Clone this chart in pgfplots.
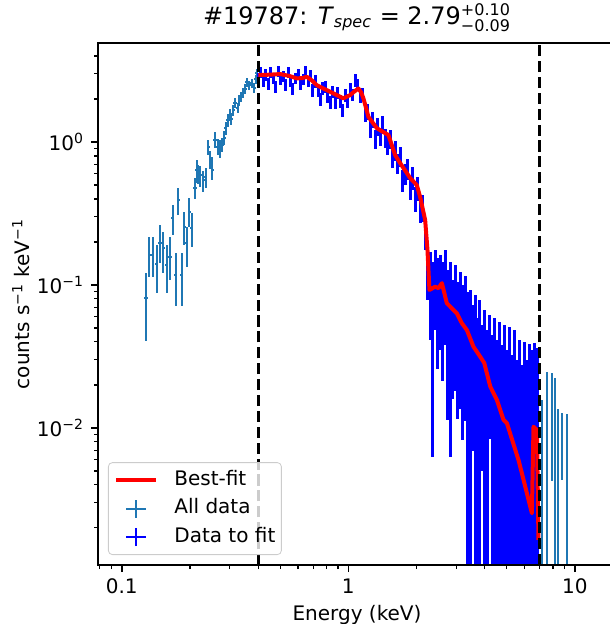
\documentclass[border=0pt]{standalone}
\usepackage{amsmath}
\usepackage{pgfplots}
\pgfplotsset{compat=1.18}
\usepackage{pgfplotstable}
\usepackage{fontspec}
\setmainfont{DejaVu Sans}
\definecolor{allc}{HTML}{1F77B4}
\definecolor{fitc}{HTML}{0000FF}
\definecolor{bestc}{HTML}{FF0000}

% all data below the fit range: E, counts, relative errors (+,-)
\pgfplotstableread{
E y ep em
0.128 0.0811 0.50 0.50
0.1323 0.162 0.34 0.30
0.1370 0.162 0.34 0.30
0.1427 0.140 0.36 0.37
0.1476 0.197 0.34 0.28
0.1526 0.182 0.29 0.33
0.1580 0.138 0.38 0.36
0.1633 0.157 0.38 0.31
0.1679 0.294 0.23 0.24
0.1730 0.118 0.43 0.40
0.1777 0.393 0.21 0.22
0.1840 0.118 0.43 0.40
0.1889 0.255 0.27 0.25
0.1935 0.197 0.29 0.32
0.1987 0.324 0.25 0.22
0.2036 0.250 0.27 0.26
0.2106 0.477 0.18 0.16
0.2143 0.637 0.17 0.19
0.2180 0.600 0.15 0.15
0.2216 0.588 0.16 0.17
0.2291 0.542 0.16 0.17
0.2348 0.569 0.16 0.16
0.2411 0.923 0.12 0.12
0.2460 0.750 0.15 0.14
0.2511 0.637 0.23 0.15
0.2581 1.033 0.14 0.12
0.2653 0.923 0.13 0.12
0.2715 0.879 0.17 0.12
0.2780 0.953 0.12 0.11
0.2836 1.067 0.12 0.11
0.2880 1.25 0.11 0.10
0.2936 1.425 0.10 0.10
0.3006 1.545 0.10 0.09
0.3050 1.45 0.10 0.09
0.3109 1.67 0.09 0.09
0.3162 1.87 0.09 0.08
0.3250 1.73 0.09 0.08
0.3300 1.95 0.09 0.08
0.3361 2.06 0.08 0.08
0.3440 2.20 0.08 0.08
0.3500 2.35 0.08 0.08
0.3560 2.63 0.07 0.07
0.3645 2.50 0.07 0.07
0.3747 2.57 0.07 0.07
0.3848 2.39 0.08 0.08
0.3900 2.75 0.07 0.07
0.3943 3.04 0.07 0.07
}\alllow

% all data above the fit range
\pgfplotstableread{
E y ep em
7.14 0.0078 1.0 0.99
7.51 0.0123 1.0 0.99
7.90 0.0142 0.70 0.70
8.17 0.0112 1.0 0.99
8.45 0.0068 1.0 0.99
8.75 0.0085 0.49 0.49
9.20 0.0063 1.0 0.99
}\allhigh

% data to fit (0.4--7 keV)
\pgfplotstableread{
E y ep em
0.400 2.80 0.09 0.09
0.410 3.09 0.09 0.09
0.421 2.68 0.09 0.09
0.432 2.96 0.09 0.09
0.443 2.56 0.10 0.10
0.454 3.07 0.09 0.09
0.466 2.79 0.09 0.09
0.478 2.45 0.10 0.10
0.490 3.13 0.09 0.09
0.502 2.75 0.09 0.09
0.515 2.90 0.09 0.09
0.529 2.52 0.10 0.10
0.542 3.08 0.09 0.09
0.556 2.68 0.09 0.09
0.570 2.37 0.10 0.10
0.585 2.80 0.09 0.09
0.600 2.99 0.09 0.09
0.615 2.56 0.10 0.10
0.631 2.75 0.09 0.09
0.647 3.14 0.09 0.09
0.664 2.67 0.09 0.09
0.681 2.93 0.09 0.09
0.698 2.30 0.10 0.10
0.716 2.66 0.10 0.10
0.735 2.28 0.10 0.10
0.753 2.00 0.11 0.11
0.773 2.38 0.10 0.10
0.793 2.44 0.10 0.10
0.813 2.07 0.10 0.10
0.834 1.90 0.11 0.11
0.855 2.26 0.10 0.10
0.877 1.92 0.11 0.11
0.900 2.21 0.10 0.10
0.923 1.93 0.11 0.11
0.946 1.67 0.11 0.11
0.971 2.13 0.10 0.10
0.996 1.94 0.11 0.11
1.021 2.37 0.10 0.10
1.047 2.15 0.10 0.10
1.074 2.70 0.10 0.10
1.102 2.53 0.10 0.10
1.130 2.09 0.10 0.10
1.159 2.16 0.11 0.11
1.189 1.58 0.13 0.13
1.219 1.63 0.13 0.13
1.250 1.25 0.14 0.14
1.283 1.43 0.13 0.13
1.315 1.05 0.15 0.15
1.349 1.29 0.14 0.14
1.384 1.09 0.14 0.14
1.419 1.33 0.14 0.14
1.456 1.07 0.15 0.15
1.493 0.953 0.15 0.15
1.531 1.06 0.15 0.15
1.571 0.786 0.16 0.16
1.611 0.875 0.16 0.16
1.652 0.710 0.16 0.16
1.695 0.796 0.16 0.16
1.738 0.543 0.18 0.18
1.783 0.600 0.17 0.17
1.828 0.653 0.17 0.17
1.875 0.478 0.18 0.18
1.923 0.566 0.18 0.18
1.973 0.405 0.20 0.20
2.023 0.478 0.19 0.19
2.075 0.342 0.21 0.21
2.128 0.351 0.21 0.21
2.183 0.235 0.25 0.25
2.239 0.145 0.32 0.46
2.296 0.1085 0.57 0.62
2.355 0.0785 0.84 0.92
2.416 0.1177 0.50 0.59
2.478 0.0922 0.67 0.72
2.541 0.1033 0.57 0.66
2.606 0.0893 0.62 0.76
2.673 0.100 0.76 0.62
2.742 0.0667 0.90 0.83
2.812 0.0785 0.84 0.92
2.884 0.0587 0.84 0.73
2.958 0.0724 0.90 0.75
3.034 0.0551 0.90 0.79
3.112 0.0616 1.00 0.78
3.192 0.0483 1.06 0.83
3.274 0.0587 0.97 0.81
3.358 0.0411 1.17 0.99
3.444 0.0461 1.0 0.99
3.532 0.0362 1.0 0.81
3.623 0.0426 1.0 0.99
3.716 0.0294 1.0 0.99
3.811 0.0393 1.0 0.99
3.909 0.0262 1.0 0.81
4.009 0.0334 1.0 0.99
4.112 0.0242 1.0 0.99
4.218 0.0308 1.0 0.73
4.326 0.0223 1.0 0.99
4.437 0.0294 1.0 0.99
4.550 0.0206 1.0 0.99
4.667 0.0276 1.0 0.99
4.787 0.0190 1.0 0.99
4.910 0.0262 1.0 0.99
5.036 0.0175 1.0 0.99
5.165 0.0254 1.0 0.99
5.297 0.0161 1.0 0.99
5.433 0.0242 1.0 0.99
5.572 0.0149 1.0 0.99
5.715 0.0206 1.0 0.99
5.862 0.0137 1.0 0.99
6.012 0.0199 1.0 0.99
6.167 0.0149 1.0 0.99
6.325 0.0193 1.0 0.99
6.487 0.0175 1.0 0.99
6.653 0.0196 1.0 0.99
6.824 0.0181 1.0 0.99
}\fitdata

% best-fit model
\pgfplotstableread{
E y
0.401 2.94
0.45 2.96
0.50 2.99
0.55 2.90
0.592 2.79
0.625 2.80
0.656 2.86
0.69 2.70
0.726 2.50
0.78 2.36
0.831 2.25
0.89 2.13
0.951 2.02
1.018 2.13
1.06 2.25
1.108 2.37
1.14 2.22
1.166 2.02
1.227 1.50
1.336 1.25
1.42 1.18
1.503 1.12
1.609 0.811
1.693 0.713
1.875 0.560
2.006 0.500
2.075 0.412
2.183 0.285
2.235 0.176
2.28 0.0923
2.416 0.0973
2.50 0.0950
2.587 0.1030
2.722 0.0745
3.013 0.0634
3.17 0.054
3.336 0.0484
3.567 0.037
3.82 0.0315
3.98 0.0285
4.23 0.0195
4.525 0.0157
4.84 0.0114
5.01 0.0108
5.636 0.00597
5.834 0.00482
6.457 0.00253
6.564 0.0102
6.795 0.00968
6.905 0.00165
}\bestfit

\pgfplotsset{
  bestleg/.style={legend image code/.code={
    \path[draw=none, fill=none] (0pt,-4.5pt) rectangle (20pt,4.5pt);
    \draw[bestc, line width=2pt] (0pt,0pt) -- (20pt,0pt);}},
  allleg/.style={legend image code/.code={
    \path[draw=none, fill=none] (0pt,-4.5pt) rectangle (20pt,4.5pt);
    \draw[allc, line width=1pt] (10pt,-4.5pt) -- (10pt,4.5pt) (5pt,0pt) -- (15pt,0pt);}},
  fitleg/.style={legend image code/.code={
    \path[draw=none, fill=none] (0pt,-4.5pt) rectangle (20pt,4.5pt);
    \draw[fitc, line width=1pt] (10pt,-4.5pt) -- (10pt,4.5pt) (5pt,0pt) -- (15pt,0pt);}},
  errpts/.style n args={3}{draw=none, mark=none, forget plot,
    error bars/.cd, y dir=both, y explicit relative, x dir=both, x fixed relative=#1,
    error mark=none, error bar style={draw=#2, line width=#3}},
}

\begin{document}
\begin{tikzpicture}
\useasboundingbox (-49pt,-29.5pt) rectangle (255.5pt,282.5pt);
\begin{axis}[
  scale only axis, width=259pt, height=261pt,
  xmode=log, ymode=log,
  xmin=0.0786, xmax=15.18, ymin=0.0011, ymax=4.93,
  axis on top,
  axis line style={line width=0.8pt},
  tick align=outside, tick pos=left,
  xtick={0.1,1,10}, xticklabels={0.1,1,10},
  minor xtick={0.08,0.09,0.2,0.3,0.4,0.5,0.6,0.7,0.8,0.9,2,3,4,5,6,7,8,9},
  ytick={0.01,0.1,1},
  yticklabels={10$^{\text{−2}}$,10$^{\text{−1}}$,10$^{\text{0}}$},
  minor ytick={0.002,0.003,0.004,0.005,0.006,0.007,0.008,0.009,0.02,0.03,0.04,0.05,0.06,0.07,0.08,0.09,0.2,0.3,0.4,0.5,0.6,0.7,0.8,0.9,2,3,4},
  major tick length=3.5pt, minor tick length=2pt,
  major tick style={black, line width=0.8pt},
  minor tick style={black, line width=0.6pt},
  tick label style={font=\fontsize{10}{12}\selectfont},
  title={\#19787: \textit{T}$_{\text{\itshape spec}}$ = 2.79$^{\text{+0.10}}_{\text{−0.09}}$},
  title style={font=\fontsize{12}{14}\selectfont, at={(axis description cs:0.5,1)}, anchor=base, yshift=3.5pt},
  xlabel={Energy (keV)},
  xlabel style={font=\fontsize{10}{12}\selectfont, at={(axis description cs:0.5,0)}, anchor=base, yshift=-27.85pt},
  ylabel={counts s$^{\text{−1}}$ keV$^{\text{−1}}$},
  ylabel style={font=\fontsize{10}{12}\selectfont, at={(axis description cs:-0.1486,0.5)}, anchor=center},
  legend cell align=left,
  legend style={at={(axis description cs:0,0)}, anchor=south west, xshift=5pt, yshift=5pt,
    draw=black!20, rounded corners=2pt, fill=white, fill opacity=0.8, text opacity=1,
    font=\fontsize{10}{12}\selectfont, inner xsep=3pt, inner ysep=3.75pt,
    row sep=4.25pt, column sep=8pt,
    nodes={inner sep=0pt, text height=0.75em, text depth=0.25em}},
]
\addplot[errpts={0.016}{allc}{1pt}]
  table[x=E, y=y, y error plus=ep, y error minus=em] {\alllow};
\addplot[errpts={0.01}{allc}{1pt}]
  table[x=E, y=y, y error plus=ep, y error minus=em] {\allhigh};
\addplot[errpts={0.008}{fitc}{1.5pt}]
  table[x=E, y=y, y error plus=ep, y error minus=em] {\fitdata};
\addplot[bestc, line width=2pt, line join=round, forget plot] table[x=E, y=y] {\bestfit};
\addplot[black, line width=1.5pt, dash pattern=on 5.55pt off 2.4pt, forget plot]
  coordinates {(0.4,0.0011) (0.4,4.93)};
\addplot[black, line width=1.5pt, dash pattern=on 5.55pt off 2.4pt, forget plot]
  coordinates {(7,0.0011) (7,4.93)};
\addlegendimage{bestleg}
\addlegendentry{Best-fit}
\addlegendimage{allleg}
\addlegendentry{All data}
\addlegendimage{fitleg}
\addlegendentry{Data to fit}
\end{axis}
\end{tikzpicture}
\end{document}
